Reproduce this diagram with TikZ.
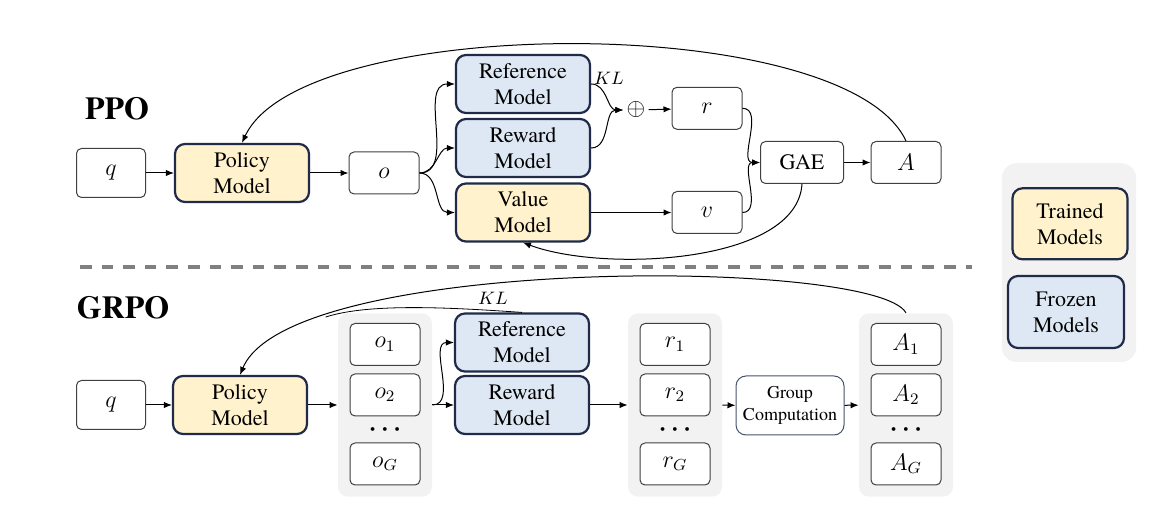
\documentclass[tikz,border=0pt]{standalone}
\usepackage{fontspec}
\setmainfont{texgyretermes}[Extension=.otf,UprightFont=*-regular,BoldFont=*-bold,
	ItalicFont=*-italic,BoldItalicFont=*-bolditalic]
\usetikzlibrary{arrows.meta}

\definecolor{trainfill}{HTML}{FFF2CC}
\definecolor{frozenfill}{HTML}{DEE8F4}
\definecolor{modeledge}{HTML}{1F2B48}
\definecolor{bggray}{HTML}{F2F2F2}
\definecolor{dashgray}{HTML}{808080}
\definecolor{gcedge}{HTML}{44546A}

\tikzset{
	txt/.style={font=\fontsize{11}{13}\selectfont},
	mathtxt/.style={font=\fontsize{12}{14}\selectfont},
	kltxt/.style={font=\fontsize{9.5}{11}\selectfont,inner sep=1pt},
	modelbox/.style={txt,draw=modeledge,line width=1.1pt,rounded corners=5pt,
		minimum width=67pt,minimum height=29pt,inner sep=0pt,align=center},
	trained/.style={modelbox,fill=trainfill},
	frozen/.style={modelbox,fill=frozenfill},
	varbox/.style={mathtxt,draw=black!75,line width=0.5pt,fill=white,rounded corners=2.5pt,
		minimum width=35pt,minimum height=21pt,inner sep=0pt},
	grpbox/.style={fill=bggray,rounded corners=5pt,minimum width=47pt,
		minimum height=91.7pt,inner sep=0pt},
	dots/.style={font=\fontsize{12}{12}\selectfont\boldmath,inner sep=0pt},
	arr/.style={-{Latex[length=4pt,width=3.2pt]},line width=0.5pt},
	algname/.style={font=\fontsize{16}{19}\selectfont\bfseries}
}

\begin{document}
\begin{tikzpicture}[x=0.5pt,y=0.5pt]
	\useasboundingbox (0,0) rectangle (1174,514);
	
	% PPO
	\node [algname] (ppo) at (117,405) {PPO};
	\node [varbox,minimum width=34.5pt,minimum height=24.5pt] (q1) at (111,341) {$q$};
	\node [trained] (pol1) at (242,341) {Policy\\Model};
	\node [varbox] (o) at (384,341) {$o$};
	\node [frozen] (ref1) at (523,430) {Reference\\Model};
	\node [frozen] (rew1) at (523,366) {Reward\\Model};
	\node [trained] (val) at (523,301.5) {Value\\Model};
	\node [kltxt] (kl1) at (609,436) {$KL$};
	\node [inner sep=1.5pt,font=\fontsize{12}{14}\selectfont] (sum) at (636,404) {$\oplus$};
	\node [varbox] (r) at (707,405.7) {$r$};
	\node [varbox] (v) at (707,301.5) {$v$};
	\node [varbox,txt,minimum width=41.5pt] (gae) at (802,351.5) {GAE};
	\node [varbox] (A) at (906,351.5) {$A$};
	
	\draw [arr] (q1) -- (pol1);
	\draw [arr] (pol1) -- (o);
	\draw [arr] (o.east) to [out=0,in=180] (ref1.west);
	\draw [arr] (o.east) to [out=0,in=180] (rew1.west);
	\draw [arr] (o.east) to [out=0,in=180] (val.west);
	\draw [arr] (ref1.east) to [out=0,in=180] (sum.west);
	\draw [arr] (rew1.east) to [out=0,in=180] (sum.west);
	\draw [arr] (sum) -- (r);
	\draw [arr] (val) -- (v);
	\draw [arr] (r.east) to [out=0,in=180] (gae.west);
	\draw [arr] (v.east) to [out=0,in=180] (gae.west);
	\draw [arr] (gae) -- (A);
	\draw [arr] (A.north) .. controls +(-60,130) and +(60,130) .. (pol1.north);
	\draw [arr] (gae.south) .. controls +(-5,-80) and +(80,-30) .. (val.south);
	
	% divider
	\draw [dashgray,line width=1.9pt,dash pattern=on 5.8pt off 5pt] (80,247) -- (972,247);
	
	% GRPO
	\node [algname] (grpo) at (123,206) {GRPO};
	\node [varbox,minimum width=34.5pt,minimum height=24.5pt] (q2) at (111,109) {$q$};
	\node [trained] (pol2) at (240,109) {Policy\\Model};
	
	\node [grpbox] (ogrp) at (385,109) {};
	\node [varbox] (o1) at (385,169.5) {$o_1$};
	\node [varbox] (o2) at (385,119) {$o_2$};
	\node [dots] (odots) at (385,84) {$\cdots$};
	\node [varbox] (oG) at (385,50) {$o_G$};
	
	\node [frozen] (ref2) at (522,171.5) {Reference\\Model};
	\node [frozen] (rew2) at (522,109) {Reward\\Model};
	\node [kltxt] (kl2) at (493,216) {$KL$};
	
	\node [grpbox] (rgrp) at (675,109) {};
	\node [varbox] (r1) at (675,169.5) {$r_1$};
	\node [varbox] (r2) at (675,119) {$r_2$};
	\node [dots] (rdots) at (675,84) {$\cdots$};
	\node [varbox] (rG) at (675,50) {$r_G$};
	
	\node [varbox,draw=gcedge,minimum width=54pt,minimum height=29.5pt,rounded corners=5pt,
		font=\fontsize{9}{11}\selectfont,align=center] (gc) at (790,108.5) {Group\\Computation};
	
	\node [grpbox] (agrp) at (906,109) {};
	\node [varbox] (A1) at (906,169.5) {$A_1$};
	\node [varbox] (A2) at (906,119) {$A_2$};
	\node [dots] (adots) at (906,84) {$\cdots$};
	\node [varbox] (AG) at (906,50) {$A_G$};
	
	\draw [arr] (q2) -- (pol2);
	\draw [arr] (pol2) -- (ogrp);
	\draw [arr] (ogrp.east) -- (rew2.west);
	\draw [arr] (ogrp.east) to [out=0,in=180] (ref2.west);
	\draw [arr] (rew2) -- (rgrp);
	\draw [arr] (rgrp) -- (gc);
	\draw [arr] (gc) -- (agrp);
	\draw [arr] (agrp.north) .. controls +(-30,55) and +(50,120) .. coordinate [pos=0.8] (merge) (pol2.north);
	\draw (ref2.north) .. controls +(-60,4) and +(45,15) .. (merge);
	
	% legend
	\node [grpbox,minimum width=67.2pt,minimum height=99.4pt,rounded corners=7.5pt] (legend) at (1069,251.4) {};
	\node [trained,minimum width=57.5pt,minimum height=35.5pt] (lgtrain) at (1070,290.2) {Trained\\Models};
	\node [frozen,minimum width=58pt,minimum height=36pt] (lgfrozen) at (1066,202) {Frozen\\Models};
	
\end{tikzpicture}
\end{document}
